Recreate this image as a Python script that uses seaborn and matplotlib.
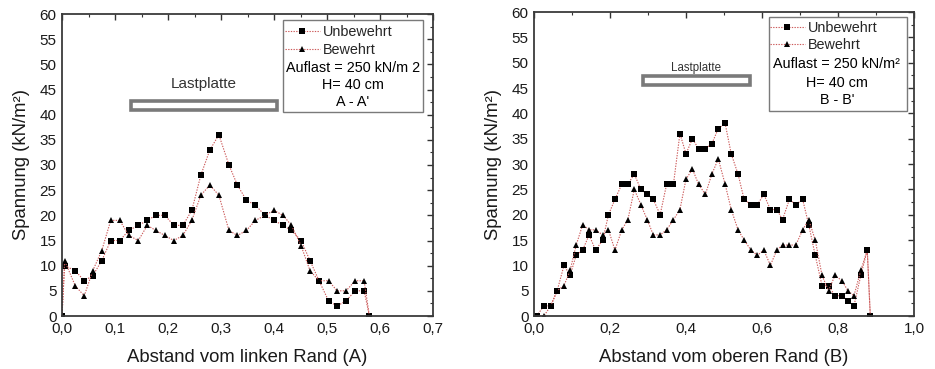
import matplotlib
matplotlib.use("Agg")
import matplotlib.pyplot as plt
from matplotlib.patches import Rectangle
from matplotlib.lines import Line2D
from matplotlib.ticker import MultipleLocator
import seaborn as sns
import pandas as pd

# ---- Schnitt A - A' -------------------------------------------------------
x_a = [0.0, 0.005, 0.025, 0.042, 0.058, 0.075, 0.092, 0.109, 0.126, 0.144,
       0.161, 0.177, 0.194, 0.211, 0.228, 0.245, 0.262, 0.279, 0.296, 0.315,
       0.331, 0.348, 0.365, 0.383, 0.400, 0.417, 0.433, 0.451, 0.468, 0.485,
       0.503, 0.519, 0.536, 0.553, 0.570, 0.580]
unbewehrt_a = [0, 10, 9, 7, 8, 11, 15, 15, 17, 18,
               19, 20, 20, 18, 18, 21, 28, 33, 36, 30,
               26, 23, 22, 20, 19, 18, 17, 15, 11, 7,
               3, 2, 3, 5, 5, 0]
bewehrt_a = [0, 11, 6, 4, 9, 13, 19, 19, 16, 15,
             18, 17, 16, 15, 16, 19, 24, 26, 24, 17,
             16, 17, 19, 20, 21, 20, 18, 14, 9, 7,
             7, 5, 5, 7, 7, 0]

# ---- Schnitt B - B' -------------------------------------------------------
x_b = [0.007, 0.026, 0.044, 0.061, 0.079, 0.095, 0.111, 0.128, 0.145, 0.162,
       0.181, 0.196, 0.213, 0.231, 0.247, 0.264, 0.281, 0.298, 0.314, 0.332,
       0.349, 0.367, 0.384, 0.400, 0.417, 0.433, 0.451, 0.468, 0.485, 0.503,
       0.519, 0.537, 0.553, 0.571, 0.588, 0.605, 0.622, 0.639, 0.654, 0.672,
       0.689, 0.707, 0.723, 0.740, 0.758, 0.775, 0.792, 0.810, 0.826, 0.842,
       0.860, 0.877, 0.885]
unbewehrt_b = [0, 2, 2, 5, 10, 8, 12, 13, 16, 13,
               15, 20, 23, 26, 26, 28, 25, 24, 23, 20,
               26, 26, 36, 32, 35, 33, 33, 34, 37, 38,
               32, 28, 23, 22, 22, 24, 21, 21, 19, 23,
               22, 23, 18, 12, 6, 6, 4, 4, 3, 2,
               8, 13, 0]
bewehrt_b = [0, 0, 2, 5, 6, 9, 14, 18, 17, 17,
             16, 17, 13, 17, 19, 25, 22, 19, 16, 16,
             17, 19, 21, 27, 29, 26, 24, 28, 31, 26,
             21, 17, 15, 13, 12, 13, 10, 13, 14, 14,
             14, 17, 19, 15, 8, 5, 8, 7, 5, 4,
             9, 13, 0]

# ---- Achsen, Beschriftungen ----------------------------------------------
series_names = ["Unbewehrt", "Bewehrt"]
xticks_a = [0.0, 0.1, 0.2, 0.3, 0.4, 0.5, 0.6, 0.7]
xticklabels_a = ["0,0", "0,1", "0,2", "0,3", "0,4", "0,5", "0,6", "0,7"]
xticks_b = [0.0, 0.2, 0.4, 0.6, 0.8, 1.0]
xticklabels_b = ["0,0", "0,2", "0,4", "0,6", "0,8", "1,0"]
yticks = [0, 5, 10, 15, 20, 25, 30, 35, 40, 45, 50, 55, 60]
xlabel_a = "Abstand vom linken Rand (A)"
xlabel_b = "Abstand vom oberen Rand (B)"
ylabel = "Spannung (kN/m²)"
info_a = ["Auflast = 250 kN/m 2", "H= 40 cm", "A - A'"]
info_b = ["Auflast = 250 kN/m²", "H= 40 cm", "B - B'"]
# Lastplatte: (x von, x bis, Höhe)
platte_a = (0.13, 0.405, 41.8)
platte_b = (0.287, 0.568, 46.4)

sns.set_theme(style="white")
plt.rcParams["font.family"] = ["Liberation Sans", "DejaVu Sans"]

LINE_COLOR = "#cc5a5a"
GREY = "#7a7a7a"
DASH = (0, (1.2, 1.2))

fig = plt.figure(figsize=(9.35, 3.69), dpi=100)
ax_a = fig.add_axes([62 / 935, 53 / 369, 371 / 935, 302 / 369])
ax_b = fig.add_axes([534 / 935, 53 / 369, 380 / 935, 304 / 369])


def draw_series(ax, x, y_unb, y_bew):
    df = pd.DataFrame({"x": x, "Unbewehrt": y_unb, "Bewehrt": y_bew})
    sns.lineplot(data=df, x="x", y="Unbewehrt", ax=ax, estimator=None, sort=False,
                 color=LINE_COLOR, linestyle=DASH, linewidth=0.8,
                 marker="s", markersize=4.2, markerfacecolor="black",
                 markeredgecolor="black", markeredgewidth=0)
    sns.lineplot(data=df, x="x", y="Bewehrt", ax=ax, estimator=None, sort=False,
                 color=LINE_COLOR, linestyle=DASH, linewidth=0.8,
                 marker="^", markersize=5, markerfacecolor="black",
                 markeredgecolor="black", markeredgewidth=0)


def style_axes(ax, xmax, xticks, xticklabels, xminor, xlabel):
    ax.set_xlim(0, xmax)
    ax.set_ylim(0, 60)
    ax.set_xticks(xticks)
    ax.set_xticklabels(xticklabels)
    ax.xaxis.set_minor_locator(MultipleLocator(xminor))
    ax.set_yticks(yticks)
    ax.yaxis.set_minor_locator(MultipleLocator(2.5))
    ax.tick_params(which="both", direction="in", top=True, right=True,
                   color="#333333", labelsize=11, labelcolor="#1a1a1a")
    ax.tick_params(axis="x", pad=4.5)
    ax.tick_params(axis="y", pad=4)
    ax.tick_params(which="major", length=4, width=1.0)
    ax.tick_params(which="minor", length=2.2, width=0.8)
    for s in ax.spines.values():
        s.set_color("#3a3a3a")
        s.set_linewidth(1.3)
    ax.set_xlabel(xlabel, fontsize=13.3, labelpad=9, color="#1a1a1a")
    ax.set_ylabel(ylabel, fontsize=13.3, labelpad=7, color="#1a1a1a")
    ax.grid(False)


def info_box(ax, box, legend_anchor, text_rows, center_x, row_ys, fs):
    x0, y0, x1, y1 = box
    ax.add_patch(Rectangle((x0, y0), x1 - x0, y1 - y0, transform=ax.transAxes,
                           facecolor="white", edgecolor=GREY, linewidth=1.0,
                           zorder=5))
    handles = [
        Line2D([], [], color=LINE_COLOR, linestyle=DASH, linewidth=0.8,
               marker="s", markersize=4, markerfacecolor="black",
               markeredgewidth=0),
        Line2D([], [], color=LINE_COLOR, linestyle=DASH, linewidth=0.8,
               marker="^", markersize=4.5, markerfacecolor="black",
               markeredgewidth=0),
    ]
    leg = ax.legend(handles, series_names, loc="center left",
                    bbox_to_anchor=legend_anchor, frameon=False,
                    fontsize=fs, handlelength=2.4, handletextpad=0.2,
                    labelspacing=0.24, borderpad=0, borderaxespad=0)
    leg.set_zorder(6)
    for txt, yy in zip(text_rows, row_ys):
        ax.text(center_x, yy, txt, transform=ax.transAxes, ha="center",
                va="center", fontsize=fs, color="black", zorder=7)


def platte(ax, spec, label, label_y, fs):
    xa, xb, h = spec
    ax.add_patch(Rectangle((xa, h - 0.9), xb - xa, 1.8, facecolor="white",
                           edgecolor=GREY, linewidth=2.6, zorder=3))
    ax.text((xa + xb) / 2, label_y, label, ha="center", va="center",
            fontsize=fs, color="#333333")


draw_series(ax_a, x_a, unbewehrt_a, bewehrt_a)
draw_series(ax_b, x_b, unbewehrt_b, bewehrt_b)

style_axes(ax_a, 0.7, xticks_a, xticklabels_a, 0.05, xlabel_a)
style_axes(ax_b, 1.0, xticks_b, xticklabels_b, 0.1, xlabel_b)

info_box(ax_a, (0.596, 0.675, 0.973, 0.98), (0.601, 0.911), info_a, 0.784,
         [0.821, 0.765, 0.709], 10.4)
info_box(ax_b, (0.618, 0.674, 0.982, 0.984), (0.621, 0.919), info_b, 0.797,
         [0.829, 0.766, 0.711], 10.4)

platte(ax_a, platte_a, "Lastplatte", 46.0, 11)
platte(ax_b, platte_b, "Lastplatte", 49.0, 8.3)

fig.savefig("out.png", dpi=100)
